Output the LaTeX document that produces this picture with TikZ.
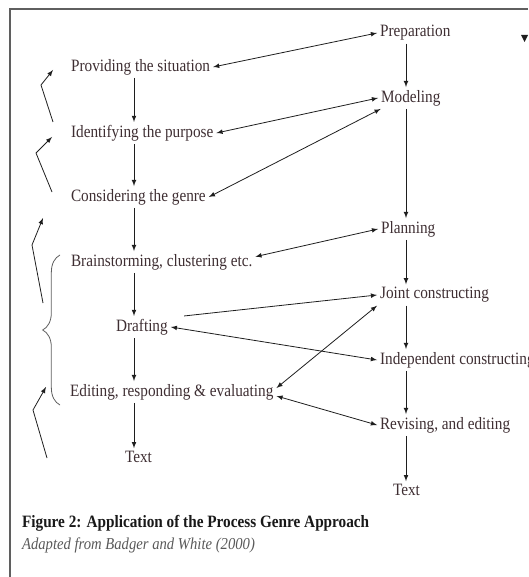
\documentclass[tikz,border=0pt]{standalone}
\usepackage{fontspec}
\setmainfont{Liberation Serif}[FakeStretch=0.88]
\usepackage{xcolor}
\usepackage{tikz}
\usetikzlibrary{decorations.pathreplacing}

\definecolor{inkline}{RGB}{30,30,30}
\definecolor{inktext}{RGB}{62,46,50}
\definecolor{framecol}{RGB}{95,95,95}

\tikzset{
  every stage/.style={anchor=west, inner sep=2pt, text=inktext,
    font=\fontsize{13}{15}\selectfont},
}

\begin{document}
\begin{tikzpicture}[x=0.75pt, y=-0.75pt, >=latex, line width=0.6pt, color=inkline]

\useasboundingbox (0,0) rectangle (528,577);

% frame
\draw [framecol, line width=1.3pt] (528,9) -- (10,9) -- (10,577);

\foreach \x/\y/\t [count=\i] in {68/67/Providing the situation,
    68/133/Identifying the purpose, 68/197/Considering the genre,
    68/262/{Brainstorming, clustering etc.}, 113/327/Drafting,
    67/392/{Editing, responding \& evaluating}, 122/457/Text}
  \node [every stage] (process-\i) at (\x,\y) {\t};

\foreach \x/\y/\t [count=\i] in {377/33/Preparation, 378/98/Modeling,
    378/229/Planning, 377/295/Joint constructing,
    377/360/Independent constructing, 377/425/{Revising, and editing},
    390/490/Text}
  \node [every stage] (genre-\i) at (\x,\y) {\t};

\coordinate (lcol) at (134,0);
\coordinate (rcol) at (406,0);

\foreach \i [count=\j from 2] in {1,...,6}
  \draw [->] (process-\i.south -| lcol) -- (process-\j.north -| lcol);

\foreach \i [count=\j from 2] in {1,...,6}
  \draw [->] (genre-\i.south -| rcol) -- (genre-\j.north -| rcol);

% links between the two columns
\draw [<->] (process-1.east) -- (genre-1.west);
\draw [<->] (process-2.east) -- (genre-2.west);
\draw [<->] (process-3.east) -- (genre-2.200);
\draw [<->] ([yshift=4pt]process-4.east) -- (genre-3.west);
\draw [->] ([xshift=10pt]process-5.north east) -- (genre-4.west);
\draw [<->] (process-5.east) -- (genre-5.west);
\draw [<->] (genre-4.south west) -- ([yshift=3pt]process-6.east);
\draw [<->] ([yshift=-3pt]process-6.east) -- (genre-6.west);

% brace and loops on the left
\coordinate (brace-bot) at (60,405);
\coordinate (brace-top) at (60,255);
\draw [framecol, decorate, decoration={brace, amplitude=13pt}]
  (brace-bot) -- (brace-top);

\foreach \sx/\sy/\mx/\my/\ex/\ey [count=\i] in {53/122/41/85/53/70,
    52/192/36/153/52/137, 43/303/32/245/43/218, 47/458/33/410/46/387} {
  \coordinate (loop-\i-a) at (\sx,\sy);
  \coordinate (loop-\i-b) at (\mx,\my);
  \coordinate (loop-\i-c) at (\ex,\ey);
  \draw [->] (loop-\i-a) -- (loop-\i-b) -- (loop-\i-c);
}

\fill (521,35) -- (528,35) -- (524.5,42) -- cycle;

\node [anchor=west, inner sep=2pt, text=black!90,
  font=\bfseries\fontsize{13}{15}\selectfont] (caption) at (19,523)
  {Figure 2: Application of the Process Genre Approach};
\node [anchor=west, inner sep=2pt, text=black!65,
  font=\itshape\fontsize{12.5}{14}\selectfont] (source) at (19,545)
  {Adapted from Badger and White (2000)};

\end{tikzpicture}
\end{document}
